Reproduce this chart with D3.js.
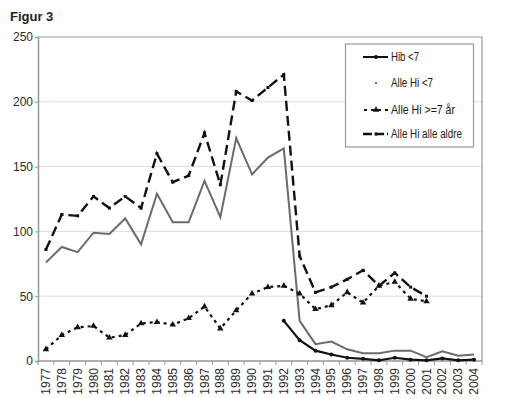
<!DOCTYPE html>
<html>
<head>
<meta charset="utf-8">
<script src="https://cdn.jsdelivr.net/npm/d3@7/dist/d3.min.js"></script>
<style>
  body { margin: 0; background: #fff; }
  svg { display: block; }
  .num { font-family: "Liberation Sans", Arial, sans-serif; font-size: 12px; fill: #2a2a2a; }
  .leg { font-family: "Liberation Sans", Arial, sans-serif; font-size: 12px; fill: #1a1a1a; }
</style>
</head>
<body>
<div id="chart"></div>
<script>
// data
const years = d3.range(1977, 2005).map(String);
const yTicks = [0, 50, 100, 150, 200, 250];

const alleAldre = [86, 113, 112, 127, 118, 127, 118, 160, 138, 143, 176, 136, 208, 201, 211, 221,
  81, 53, 57, 63, 70, 58, 68, 57, 50, null, null, null];
const alleOver7 = [9, 20, 26, 27, 18, 20, 29, 30, 28, 33, 42, 25, 39, 52, 57, 58,
  52, 40, 43, 53, 45, 58, 61, 48, 46, null, null, null];
const alleUnder7 = [76, 88, 84, 99, 98, 110, 90, 129, 107, 107, 139, 111, 172, 144, 157, 164,
  31, 13, 15, 9, 6, 6, 8, 8, 3, 7.5, 4, 5];
const hibUnder7 = [null, null, null, null, null, null, null, null, null, null, null, null, null, null, null,
  31, 16, 8, 5, 2.5, 1.7, 0.5, 2.5, 1, 0.5, 2, 0.5, 1];

const legendLabels = ['Hib <7', 'Alle Hi <7', 'Alle Hi >=7 år', 'Alle Hi alle aldre'];

const W = 525, H = 399;
const m = { left: 38, right: 482, top: 37, bottom: 361 };

const svg = d3.select('#chart').append('svg')
  .attr('width', W)
  .attr('height', H);

const x = d3.scaleBand().domain(years).range([m.left, m.right]);
const y = d3.scaleLinear().domain([0, 250]).range([m.bottom, m.top]);
const cx = d => x(d) + x.bandwidth() / 2;

svg.append('text')
  .attr('x', 10).attr('y', 21)
  .attr('font-family', 'Liberation Sans, Arial, sans-serif')
  .attr('font-size', 13)
  .attr('font-weight', 'bold')
  .attr('fill', '#222')
  .text('Figur 3');

// gridlines
svg.append('g')
  .selectAll('line')
  .data(yTicks.filter(t => t > 0 && t < 250))
  .enter().append('line')
  .attr('x1', m.left).attr('x2', m.right)
  .attr('y1', d => y(d)).attr('y2', d => y(d))
  .attr('stroke', '#dcdcdc')
  .attr('stroke-width', 1);

// frame top + right
svg.append('path')
  .attr('d', `M${m.left},${y(250)}H${m.right}V${m.bottom}`)
  .attr('fill', 'none')
  .attr('stroke', '#999')
  .attr('stroke-width', 1.2);

// y axis
const yAxis = svg.append('g')
  .attr('transform', `translate(${m.left},0)`)
  .call(d3.axisLeft(y).tickValues(yTicks).tickSize(3).tickPadding(2));
yAxis.select('.domain').attr('stroke', '#999').attr('stroke-width', 1.5);
yAxis.selectAll('.tick line').attr('stroke', '#999');
yAxis.selectAll('.tick text').attr('class', 'num');

// x axis, ticks at band edges
const xAxis = svg.append('g')
  .attr('transform', `translate(0,${m.bottom})`);
xAxis.append('line')
  .attr('x1', m.left).attr('x2', m.right)
  .attr('stroke', '#999').attr('stroke-width', 1.5);
xAxis.selectAll('.edge')
  .data(years.concat(['end']))
  .enter().append('line')
  .attr('class', 'edge')
  .attr('x1', (d, i) => m.left + i * x.bandwidth())
  .attr('x2', (d, i) => m.left + i * x.bandwidth())
  .attr('y1', 0).attr('y2', 4)
  .attr('stroke', '#999');
xAxis.selectAll('text')
  .data(years)
  .enter().append('text')
  .attr('class', 'num')
  .attr('text-anchor', 'end')
  .attr('transform', d => `translate(${cx(d) + 4},7) rotate(-90)`)
  .text(d => d);

const line = d3.line()
  .defined(d => d.v != null)
  .x(d => cx(d.year))
  .y(d => y(d.v));
const pts = arr => arr.map((v, i) => ({ year: years[i], v }));

// Alle Hi <7
svg.append('path')
  .datum(pts(alleUnder7))
  .attr('d', line)
  .attr('fill', 'none')
  .attr('stroke', '#6b6b6b')
  .attr('stroke-width', 2);

// Alle Hi >=7 år
svg.append('path')
  .datum(pts(alleOver7))
  .attr('d', line)
  .attr('fill', 'none')
  .attr('stroke', '#111')
  .attr('stroke-width', 2.2)
  .attr('stroke-dasharray', '3,4');
svg.append('g')
  .selectAll('path')
  .data(pts(alleOver7).filter(d => d.v != null))
  .enter().append('path')
  .attr('d', d3.symbol().type(d3.symbolTriangle).size(18))
  .attr('transform', d => `translate(${cx(d.year)},${y(d.v)})`)
  .attr('fill', '#111');

// Alle Hi alle aldre
svg.append('path')
  .datum(pts(alleAldre))
  .attr('d', line)
  .attr('fill', 'none')
  .attr('stroke', '#111')
  .attr('stroke-width', 2.4)
  .attr('stroke-dasharray', '10,5');
svg.append('g')
  .selectAll('rect')
  .data(pts(alleAldre).filter(d => d.v != null))
  .enter().append('rect')
  .attr('x', d => cx(d.year) - 1.5)
  .attr('y', d => y(d.v) - 1.5)
  .attr('width', 3).attr('height', 3)
  .attr('fill', '#111');

// Hib <7
svg.append('path')
  .datum(pts(hibUnder7))
  .attr('d', line)
  .attr('fill', 'none')
  .attr('stroke', '#111')
  .attr('stroke-width', 2.2);
svg.append('g')
  .selectAll('circle')
  .data(pts(hibUnder7).filter(d => d.v != null))
  .enter().append('circle')
  .attr('cx', d => cx(d.year))
  .attr('cy', d => y(d.v))
  .attr('r', 2)
  .attr('fill', '#111');

// legend
const lg = svg.append('g');
lg.append('rect')
  .attr('x', 345.5).attr('y', 44)
  .attr('width', 128).attr('height', 103)
  .attr('fill', '#fff')
  .attr('stroke', '#999')
  .attr('stroke-width', 1.2);
const rowY = [57, 83, 110, 134];
const row = lg.selectAll('.row')
  .data(legendLabels)
  .enter().append('g')
  .attr('class', 'row')
  .attr('transform', (d, i) => `translate(0,${rowY[i]})`);
row.append('text')
  .attr('class', 'leg')
  .attr('x', 391).attr('y', 4)
  .attr('textLength', (d, i) => [28, 42, 64, 71][i])
  .attr('lengthAdjust', 'spacingAndGlyphs')
  .text(d => d);

const r0 = row.filter((d, i) => i === 0);
r0.append('line').attr('x1', 363).attr('x2', 388).attr('stroke', '#111').attr('stroke-width', 2);
r0.append('circle').attr('cx', 376).attr('r', 2).attr('fill', '#111');

const r1 = row.filter((d, i) => i === 1);
r1.append('circle').attr('cx', 376).attr('r', 1).attr('fill', '#444');

const r2 = row.filter((d, i) => i === 2);
r2.append('line').attr('x1', 364).attr('x2', 389).attr('stroke', '#111')
  .attr('stroke-width', 2.2).attr('stroke-dasharray', '3,4');
r2.append('path').attr('d', d3.symbol().type(d3.symbolTriangle).size(18))
  .attr('transform', 'translate(376,0)').attr('fill', '#111');

const r3 = row.filter((d, i) => i === 3);
r3.append('line').attr('x1', 363).attr('x2', 388).attr('stroke', '#111')
  .attr('stroke-width', 2.4).attr('stroke-dasharray', '9,3');
r3.append('rect').attr('x', 374.5).attr('y', -1.5).attr('width', 3).attr('height', 3).attr('fill', '#111');
</script>
</body>
</html>
